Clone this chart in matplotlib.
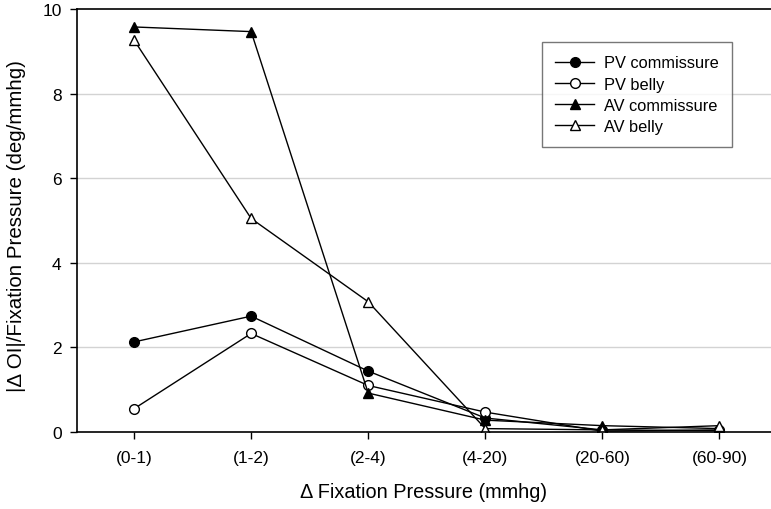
import matplotlib
matplotlib.use("Agg")
import matplotlib.pyplot as plt

categories = ["(0-1)", "(1-2)", "(2-4)", "(4-20)", "(20-60)", "(60-90)"]
pv_commissure = [2.13, 2.74, 1.44, 0.33, 0.05, 0.03]
pv_belly = [0.55, 2.33, 1.10, 0.47, 0.02, 0.05]
av_commissure = [9.58, 9.47, 0.92, 0.28, 0.15, 0.08]
av_belly = [9.27, 5.05, 3.08, 0.08, 0.05, 0.15]
yticks = [0, 2, 4, 6, 8, 10]

plt.rcParams['font.family'] = ['Liberation Sans', 'DejaVu Sans']

fig = plt.figure(figsize=(7.71, 5.10), dpi=100)
ax = fig.add_axes([0.0999, 0.151, 0.9001, 0.829])

x = list(range(len(categories)))
common = dict(color='black', linewidth=1.0, markersize=7, markeredgewidth=1.0, markeredgecolor='black')
ax.plot(x, pv_commissure, marker='o', markerfacecolor='black', label='PV commissure', **common)
ax.plot(x, pv_belly, marker='o', markerfacecolor='white', label='PV belly', **common)
ax.plot(x, av_commissure, marker='^', markerfacecolor='black', label='AV commissure', **common)
ax.plot(x, av_belly, marker='^', markerfacecolor='white', label='AV belly', **common)

ax.set_xlim(-0.487, 5.44)
ax.set_ylim(0, 10)
ax.set_xticks(x)
ax.set_xticklabels(categories, fontsize=12.5)
ax.set_yticks(yticks)
ax.set_yticklabels([str(v) for v in yticks], fontsize=12.5)
ax.tick_params(direction='out', length=5, width=1, pad=6)
ax.tick_params(axis='x', pad=8)

for v in [2, 4, 6, 8]:
    ax.axhline(v, color='#d3d3d3', linewidth=1.0, zorder=0)

ax.spines['right'].set_visible(False)
for s in ['top', 'left', 'bottom']:
    ax.spines[s].set_linewidth(1.2)

ax.set_xlabel('\u0394 Fixation Pressure (mmhg)', fontsize=14.3, labelpad=12)
ax.set_ylabel('|\u0394 OI|/Fixation Pressure (deg/mmhg)', fontsize=14.8)
ax.yaxis.set_label_coords(-0.0735, 0.489)

leg = ax.legend(loc='upper left', bbox_to_anchor=(0.670, 0.922), fontsize=11.8,
                frameon=True, fancybox=False, edgecolor='#555555', handlelength=2.4,
                borderpad=0.8, labelspacing=0.38, handletextpad=0.6, borderaxespad=0)
leg.get_frame().set_linewidth(1.0)

fig.savefig('out.png', dpi=100)
